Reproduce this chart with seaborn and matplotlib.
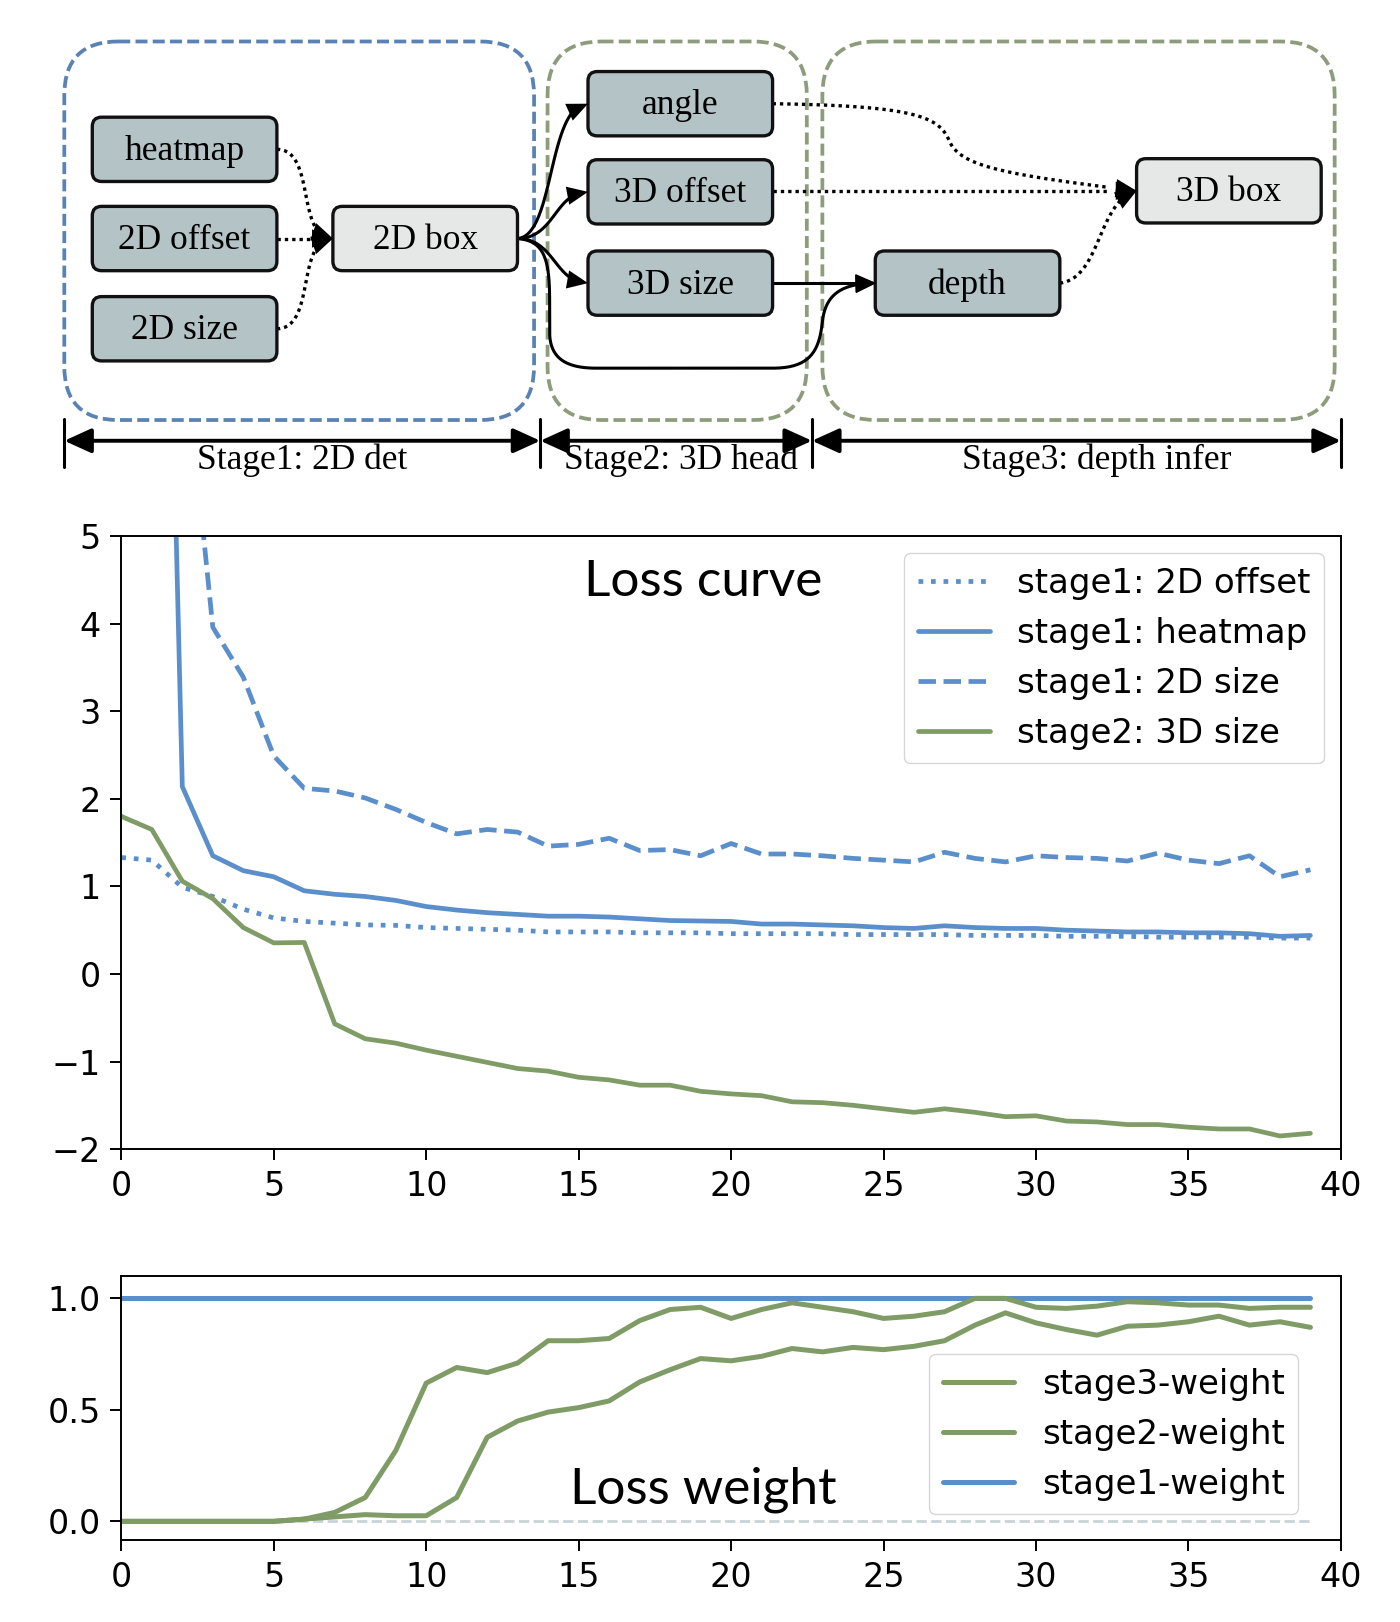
import numpy as np
import matplotlib
matplotlib.use("Agg")
import matplotlib.pyplot as plt
import seaborn as sns
from matplotlib.patches import FancyBboxPatch, FancyArrowPatch

# ---------------- data ----------------
epochs = list(range(40))

offset_2d = [1.33, 1.30, 0.99, 0.885, 0.74, 0.64, 0.60, 0.58, 0.56, 0.555,
             0.53, 0.52, 0.51, 0.50, 0.48, 0.48, 0.48, 0.47, 0.47, 0.47,
             0.46, 0.46, 0.46, 0.46, 0.45, 0.45, 0.45, 0.45, 0.44, 0.44,
             0.44, 0.43, 0.43, 0.43, 0.42, 0.42, 0.42, 0.42, 0.41, 0.41]
heatmap = [40.0, 16.4, 2.14, 1.35, 1.18, 1.11, 0.95, 0.91, 0.885, 0.84,
           0.77, 0.73, 0.70, 0.68, 0.66, 0.66, 0.65, 0.63, 0.61, 0.605,
           0.60, 0.57, 0.57, 0.56, 0.55, 0.53, 0.52, 0.55, 0.53, 0.52,
           0.52, 0.50, 0.49, 0.48, 0.48, 0.47, 0.47, 0.46, 0.43, 0.44]
size_2d = [20.0, 12.0, 7.4, 3.96, 3.39, 2.49, 2.12, 2.09, 2.01, 1.88,
           1.73, 1.60, 1.65, 1.62, 1.46, 1.48, 1.55, 1.41, 1.42, 1.35,
           1.49, 1.37, 1.37, 1.35, 1.32, 1.30, 1.28, 1.39, 1.32, 1.28,
           1.35, 1.33, 1.32, 1.29, 1.38, 1.30, 1.26, 1.35, 1.11, 1.19]
size_3d = [1.80, 1.65, 1.06, 0.86, 0.53, 0.355, 0.36, -0.57, -0.74, -0.79,
           -0.87, -0.94, -1.01, -1.08, -1.11, -1.18, -1.21, -1.27, -1.27, -1.34,
           -1.37, -1.39, -1.46, -1.47, -1.50, -1.54, -1.58, -1.54, -1.58, -1.63,
           -1.62, -1.68, -1.69, -1.72, -1.72, -1.75, -1.77, -1.77, -1.85, -1.82]

w_stage1 = [1.0, 1.0, 1.0, 1.0, 1.0, 1.0, 1.0, 1.0, 1.0, 1.0,
            1.0, 1.0, 1.0, 1.0, 1.0, 1.0, 1.0, 1.0, 1.0, 1.0,
            1.0, 1.0, 1.0, 1.0, 1.0, 1.0, 1.0, 1.0, 1.0, 1.0,
            1.0, 1.0, 1.0, 1.0, 1.0, 1.0, 1.0, 1.0, 1.0, 1.0]
w_stage2 = [0.0, 0.0, 0.0, 0.0, 0.0, 0.0, 0.01, 0.04, 0.107, 0.317,
            0.62, 0.69, 0.667, 0.71, 0.81, 0.81, 0.82, 0.90, 0.95, 0.96,
            0.91, 0.95, 0.98, 0.96, 0.94, 0.91, 0.92, 0.94, 1.0, 1.0,
            0.96, 0.955, 0.965, 0.985, 0.98, 0.97, 0.97, 0.955, 0.96, 0.96]
w_stage3 = [0.0, 0.0, 0.0, 0.0, 0.0, 0.0, 0.01, 0.02, 0.03, 0.025,
            0.025, 0.107, 0.377, 0.45, 0.49, 0.51, 0.54, 0.625, 0.68, 0.73,
            0.72, 0.74, 0.775, 0.76, 0.78, 0.77, 0.785, 0.81, 0.88, 0.935,
            0.89, 0.86, 0.835, 0.875, 0.88, 0.895, 0.92, 0.88, 0.895, 0.87]
w_base = [0.0, 0.0, 0.0, 0.0, 0.0, 0.0, 0.0, 0.0, 0.0, 0.0,
          0.0, 0.0, 0.0, 0.0, 0.0, 0.0, 0.0, 0.0, 0.0, 0.0,
          0.0, 0.0, 0.0, 0.0, 0.0, 0.0, 0.0, 0.0, 0.0, 0.0,
          0.0, 0.0, 0.0, 0.0, 0.0, 0.0, 0.0, 0.0, 0.0, 0.0]

loss_labels = ["stage1: 2D offset", "stage1: heatmap", "stage1: 2D size", "stage2: 3D size"]
weight_labels = ["stage3-weight", "stage2-weight", "stage1-weight"]
stage_labels = ["Stage1: 2D det", "Stage2: 3D head", "Stage3: depth infer"]

BLUE = "#5b8fcb"
GREEN = "#7f9b66"
DARK_BOX = "#b4c3c6"
LIGHT_BOX = "#e6e8e7"

sns.set_style("ticks", {"axes.edgecolor": "black", "xtick.color": "black",
                        "ytick.color": "black", "text.color": "black"})
plt.rcParams["font.family"] = ["DejaVu Sans"]

W, H = 1350, 1564  # layout units (reference pixels)
fig = plt.figure(figsize=(14, 16.22), dpi=100)

# ---------------- pipeline diagram ----------------
dg = fig.add_axes([0, 1 - 485 / H, 1, 485 / H])
dg.set_xlim(0, W)
dg.set_ylim(485, 0)
dg.axis("off")

for x0, x1, col in [(62, 515, "#5a82b4"), (528, 778, "#8d9c7b"), (793, 1287, "#8d9c7b")]:
    dg.add_patch(FancyBboxPatch((x0, 40), x1 - x0, 365,
                                boxstyle="round,pad=0,rounding_size=52",
                                fill=False, ec=col, lw=2.7, ls=(0, (3.2, 1.4))))

nodes = {
    "heatmap": (178, 144, DARK_BOX),
    "2D offset": (178, 230, DARK_BOX),
    "2D size": (178, 317, DARK_BOX),
    "2D box": (410, 230, LIGHT_BOX),
    "angle": (656, 100, DARK_BOX),
    "3D offset": (656, 185, DARK_BOX),
    "3D size": (656, 273, DARK_BOX),
    "depth": (933, 273, DARK_BOX),
    "3D box": (1185, 184, LIGHT_BOX),
}
BW, BH = 178, 62
for name, (cx, cy, fc) in nodes.items():
    dg.add_patch(FancyBboxPatch((cx - BW / 2, cy - BH / 2), BW, BH,
                                boxstyle="round,pad=0,rounding_size=9",
                                fc=fc, ec="#111111", lw=2.4, zorder=3))
    dg.text(cx, cy + 2, name, ha="center", va="center", fontsize=25.5,
            family="Liberation Serif", zorder=4)


def bez(segs, n=40):
    pts = []
    for p0, p1, p2, p3 in segs:
        t = np.linspace(0, 1, n)[:, None]
        p = ((1 - t) ** 3 * np.array(p0) + 3 * (1 - t) ** 2 * t * np.array(p1)
             + 3 * (1 - t) * t ** 2 * np.array(p2) + t ** 3 * np.array(p3))
        pts.append(p)
    return np.vstack(pts)


def arrow(pts, dotted=False):
    pts = np.asarray(pts, dtype=float)
    ls = (0, (1, 1.2)) if dotted else "-"
    lw = 2.4 if dotted else 2.2
    dg.plot(pts[:-3, 0], pts[:-3, 1], color="black", lw=lw, ls=ls,
            solid_capstyle="butt", zorder=2)
    dg.add_patch(FancyArrowPatch(tuple(pts[-6]), tuple(pts[-1]),
                                 arrowstyle="-|>,head_length=0.5,head_width=0.22",
                                 mutation_scale=30, color="black", lw=0,
                                 shrinkA=0, shrinkB=0, zorder=5))


straight = lambda a, b: np.column_stack([np.linspace(a[0], b[0], 40), np.linspace(a[1], b[1], 40)])

# stage 1 -> 2D box
arrow(bez([((267, 144), (305, 144), (285, 230), (321, 230))]), dotted=True)
arrow(straight((267, 230), (321, 230)), dotted=True)
arrow(bez([((267, 317), (305, 317), (285, 230), (321, 230))]), dotted=True)
# 2D box -> stage 2 heads
arrow(bez([((499, 230), (535, 228), (528, 100), (567, 100))]))
arrow(bez([((499, 230), (535, 230), (535, 185), (567, 185))]))
arrow(bez([((499, 230), (535, 230), (535, 273), (567, 273))]))
arrow(bez([((499, 230), (525, 232), (530, 250), (530, 290)),
           ((530, 290), (530, 320), (530, 320), (530, 320)),
           ((530, 320), (530, 345), (545, 355), (575, 355)),
           ((575, 355), (650, 355), (700, 355), (745, 355)),
           ((745, 355), (780, 355), (790, 340), (793, 310)),
           ((793, 310), (796, 285), (810, 273), (845, 273))]))
arrow(straight((745, 273), (845, 273)))
# stage 2/3 -> 3D box
arrow(bez([((745, 100), (880, 102), (905, 112), (915, 135)),
           ((915, 135), (925, 160), (965, 168), (1096, 184))]), dotted=True)
arrow(straight((745, 184), (1096, 184)), dotted=True)
arrow(bez([((1022, 273), (1062, 268), (1058, 194), (1096, 184))]), dotted=True)

# stage span markers
for x in [62, 521, 783, 1293]:
    dg.plot([x, x], [404, 450], color="black", lw=2.2)
spans = [(62, 521), (521, 783), (783, 1293)]
label_x = [291, 657, 1058]
for (a, b), lab, lx in zip(spans, stage_labels, label_x):
    dg.annotate("", xy=(b, 425), xytext=(a, 425),
                arrowprops=dict(arrowstyle="<|-|>,head_length=0.55,head_width=0.25",
                                mutation_scale=30, lw=2.8, color="black",
                                shrinkA=0, shrinkB=0))
    dg.text(lx, 444, lab, ha="center", va="center", fontsize=25.5,
            family="Liberation Serif")

# ---------------- loss curve ----------------
ax1 = fig.add_axes([117 / W, 1 - 1108 / H, (1293 - 117) / W, (1108 - 517) / H])
sns.lineplot(x=epochs, y=offset_2d, ax=ax1, color=BLUE, lw=3.4, ls=":", label=loss_labels[0])
sns.lineplot(x=epochs, y=heatmap, ax=ax1, color=BLUE, lw=3.4, ls="-", label=loss_labels[1])
sns.lineplot(x=epochs, y=size_2d, ax=ax1, color=BLUE, lw=3.4, ls="--", label=loss_labels[2])
sns.lineplot(x=epochs, y=size_3d, ax=ax1, color=GREEN, lw=3.4, ls="-", label=loss_labels[3])
ax1.set_xlim(0, 40)
ax1.set_ylim(-2, 5)
ax1.set_xticks(range(0, 41, 5))
ax1.set_yticks(range(-2, 6))
ax1.legend(loc="upper right", fontsize=24.5, frameon=True, framealpha=0.8,
           edgecolor="0.8", fancybox=True, handlelength=2.1)
ax1.text(0.477, 0.925, "Loss curve", transform=ax1.transAxes, ha="center",
         va="center", fontsize=37, family="Lato")

# ---------------- loss weight ----------------
ax2 = fig.add_axes([117 / W, 1 - 1485 / H, (1293 - 117) / W, (1485 - 1230) / H])
sns.lineplot(x=epochs, y=w_base, ax=ax2, color="#c9d3d6", lw=2, ls="--", zorder=1, legend=False)
sns.lineplot(x=epochs, y=w_stage1, ax=ax2, color=BLUE, lw=3.6, label=weight_labels[2])
sns.lineplot(x=epochs, y=w_stage2, ax=ax2, color=GREEN, lw=3.6, label=weight_labels[1])
sns.lineplot(x=epochs, y=w_stage3, ax=ax2, color=GREEN, lw=3.6, label=weight_labels[0])
ax2.set_xlim(0, 40)
ax2.set_ylim(-0.084, 1.102)
ax2.set_xticks(range(0, 41, 5))
ax2.set_yticks([0.0, 0.5, 1.0])
ax2.set_yticklabels(["0.0", "0.5", "1.0"])
hs, ls_ = ax2.get_legend_handles_labels()
order = [ls_.index(l) for l in weight_labels]
ax2.legend([hs[i] for i in order], [ls_[i] for i in order], loc="lower right",
           bbox_to_anchor=(0.965, 0.098), borderaxespad=0, fontsize=24.5,
           frameon=True, framealpha=0.8, edgecolor="0.8", fancybox=True,
           handlelength=2.1)
ax2.text(0.477, 0.19, "Loss weight", transform=ax2.transAxes, ha="center",
         va="center", fontsize=37, family="Lato")

for ax in (ax1, ax2):
    ax.set_xlabel("")
    ax.set_ylabel("")
    ax.tick_params(labelsize=24, length=8, width=1.4, direction="out", pad=7)
    for s in ax.spines.values():
        s.set_linewidth(1.4)
        s.set_color("black")
        s.set_visible(True)

fig.savefig("out.png", dpi=100)
